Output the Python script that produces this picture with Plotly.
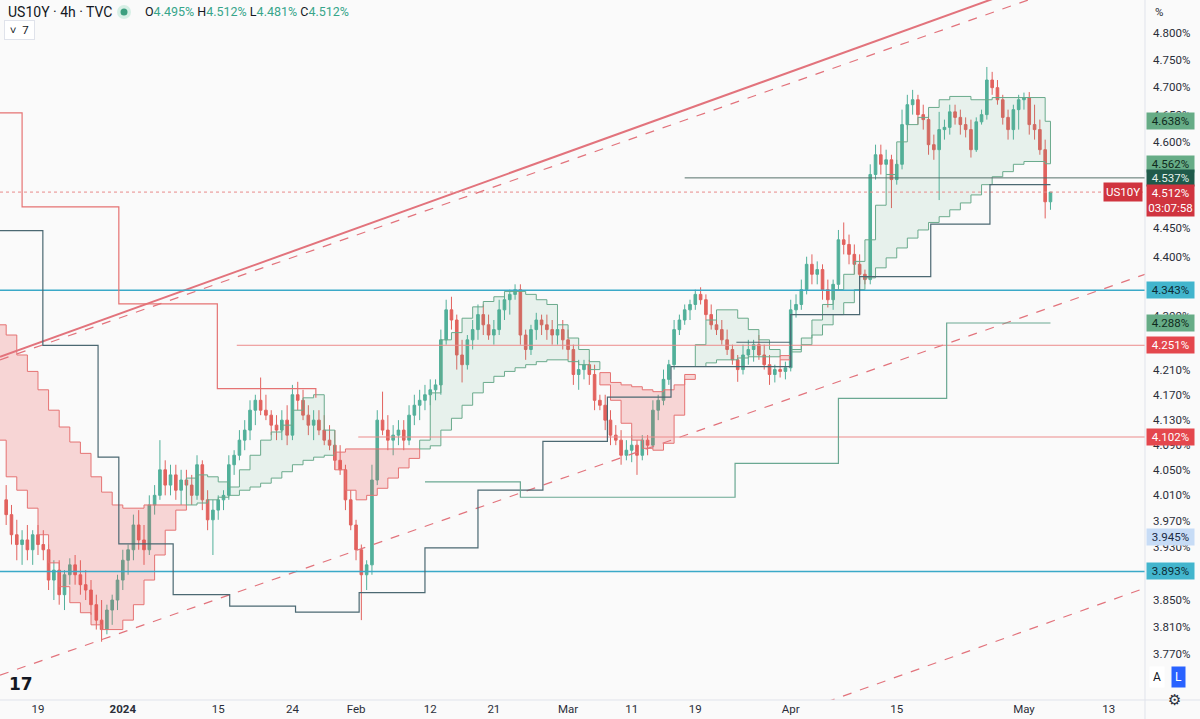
import math
import pandas as pd
import plotly.graph_objects as go

# ---------------- trading calendar ----------------
HOLIDAYS = ["2023-12-25", "2024-01-01", "2024-02-19"]
SESSIONS = pd.bdate_range("2023-12-13", "2024-05-17", freq="C", holidays=HOLIDAYS)

# ---------------- price bars (two bars per session: 00:00 and 12:00) ----------------
bar_open = [4.003, 3.980, 3.949, 3.934, 3.941, 3.926, 3.949, 3.934, 3.926, 3.880,
            3.895, 3.858, 3.888, 3.903, 3.888, 3.873, 3.865, 3.843, 3.820, 3.806,
            3.835, 3.850, 3.880, 3.910, 3.926, 3.964, 3.941, 3.926, 3.995, 4.010,
            4.050, 4.026, 4.042, 4.018, 4.034, 4.026, 4.010, 4.058, 4.003, 3.972,
            3.987, 4.003, 4.010, 4.058, 4.073, 4.097, 4.113, 4.145, 4.161, 4.145,
            4.137, 4.121, 4.113, 4.129, 4.105, 4.170, 4.161, 4.137, 4.121, 4.129,
            4.113, 4.097, 4.089, 4.065, 4.050, 4.003, 3.964, 3.926, 3.888, 3.903,
            4.034, 4.129, 4.113, 4.097, 4.105, 4.113, 4.097, 4.137, 4.153, 4.161,
            4.170, 4.178, 4.186, 4.260, 4.310, 4.293, 4.235, 4.219, 4.260, 4.277,
            4.302, 4.285, 4.268, 4.277, 4.310, 4.327, 4.336, 4.344, 4.268, 4.244,
            4.277, 4.293, 4.285, 4.277, 4.268, 4.277, 4.260, 4.244, 4.203, 4.211,
            4.219, 4.203, 4.161, 4.153, 4.129, 4.105, 4.097, 4.073, 4.081, 4.089,
            4.073, 4.097, 4.089, 4.145, 4.161, 4.195, 4.219, 4.277, 4.293, 4.310,
            4.319, 4.336, 4.327, 4.302, 4.285, 4.277, 4.260, 4.244, 4.227, 4.211,
            4.235, 4.244, 4.252, 4.235, 4.219, 4.203, 4.211, 4.208, 4.214, 4.310,
            4.319, 4.344, 4.387, 4.370, 4.378, 4.344, 4.327, 4.353, 4.429, 4.421,
            4.404, 4.387, 4.370, 4.361, 4.543, 4.578, 4.561, 4.569, 4.534, 4.561,
            4.632, 4.668, 4.677, 4.650, 4.641, 4.596, 4.587, 4.623, 4.627, 4.655,
            4.645, 4.632, 4.623, 4.587, 4.637, 4.650, 4.713, 4.699, 4.677, 4.645,
            4.623, 4.659, 4.677, 4.681, 4.632, 4.623, 4.587, 4.495]
bar_high = [4.026, 3.995, 3.972, 3.956, 3.964, 3.956, 3.964, 3.956, 3.934, 3.910,
            3.910, 3.895, 3.913, 3.918, 3.910, 3.895, 3.880, 3.858, 3.850, 3.843,
            3.858, 3.888, 3.926, 3.934, 3.980, 3.987, 3.964, 4.010, 4.026, 4.097,
            4.065, 4.058, 4.058, 4.050, 4.050, 4.042, 4.073, 4.065, 4.018, 4.003,
            4.010, 4.018, 4.073, 4.081, 4.113, 4.129, 4.161, 4.170, 4.198, 4.170,
            4.145, 4.137, 4.145, 4.153, 4.186, 4.191, 4.178, 4.153, 4.145, 4.145,
            4.137, 4.121, 4.113, 4.089, 4.058, 4.018, 3.972, 3.934, 3.910, 4.058,
            4.145, 4.175, 4.137, 4.121, 4.129, 4.129, 4.153, 4.170, 4.178, 4.186,
            4.195, 4.195, 4.277, 4.327, 4.332, 4.302, 4.260, 4.268, 4.293, 4.319,
            4.319, 4.302, 4.293, 4.327, 4.336, 4.344, 4.353, 4.353, 4.277, 4.285,
            4.305, 4.302, 4.302, 4.293, 4.285, 4.293, 4.277, 4.252, 4.227, 4.227,
            4.227, 4.219, 4.170, 4.170, 4.145, 4.121, 4.113, 4.097, 4.105, 4.097,
            4.105, 4.105, 4.161, 4.170, 4.211, 4.227, 4.293, 4.302, 4.319, 4.327,
            4.344, 4.348, 4.336, 4.319, 4.302, 4.293, 4.277, 4.252, 4.235, 4.252,
            4.260, 4.260, 4.268, 4.252, 4.235, 4.219, 4.227, 4.224, 4.327, 4.336,
            4.361, 4.400, 4.404, 4.392, 4.387, 4.361, 4.361, 4.446, 4.459, 4.438,
            4.421, 4.404, 4.378, 4.561, 4.596, 4.596, 4.587, 4.578, 4.569, 4.659,
            4.686, 4.695, 4.686, 4.668, 4.650, 4.614, 4.655, 4.641, 4.668, 4.668,
            4.659, 4.645, 4.641, 4.645, 4.659, 4.737, 4.728, 4.713, 4.686, 4.659,
            4.668, 4.686, 4.690, 4.691, 4.668, 4.641, 4.605, 4.512]
bar_low = [3.964, 3.934, 3.910, 3.903, 3.910, 3.903, 3.918, 3.910, 3.865, 3.850,
           3.843, 3.835, 3.873, 3.873, 3.858, 3.850, 3.828, 3.806, 3.788, 3.799,
           3.813, 3.835, 3.865, 3.888, 3.910, 3.926, 3.903, 3.918, 3.980, 4.003,
           4.010, 4.010, 4.003, 3.995, 4.003, 3.995, 4.003, 3.987, 3.956, 3.918,
           3.972, 3.987, 4.003, 4.042, 4.065, 4.081, 4.097, 4.121, 4.137, 4.129,
           4.105, 4.097, 4.097, 4.089, 4.097, 4.145, 4.129, 4.105, 4.097, 4.105,
           4.089, 4.081, 4.050, 4.042, 3.987, 3.956, 3.910, 3.820, 3.865, 3.888,
           4.026, 4.105, 4.081, 4.073, 4.089, 4.081, 4.089, 4.121, 4.129, 4.145,
           4.153, 4.161, 4.170, 4.252, 4.277, 4.211, 4.190, 4.211, 4.244, 4.260,
           4.268, 4.260, 4.252, 4.268, 4.293, 4.302, 4.327, 4.252, 4.227, 4.235,
           4.260, 4.268, 4.260, 4.252, 4.252, 4.244, 4.227, 4.186, 4.178, 4.195,
           4.186, 4.145, 4.145, 4.113, 4.089, 4.089, 4.058, 4.065, 4.062, 4.042,
           4.065, 4.073, 4.084, 4.129, 4.153, 4.186, 4.211, 4.268, 4.285, 4.293,
           4.310, 4.319, 4.293, 4.277, 4.268, 4.252, 4.235, 4.219, 4.191, 4.203,
           4.219, 4.224, 4.227, 4.211, 4.186, 4.190, 4.198, 4.195, 4.208, 4.297,
           4.310, 4.336, 4.353, 4.353, 4.327, 4.314, 4.310, 4.344, 4.404, 4.387,
           4.370, 4.353, 4.353, 4.353, 4.534, 4.543, 4.543, 4.484, 4.525, 4.552,
           4.623, 4.650, 4.632, 4.623, 4.578, 4.569, 4.498, 4.605, 4.614, 4.632,
           4.614, 4.609, 4.573, 4.583, 4.632, 4.641, 4.686, 4.668, 4.632, 4.605,
           4.605, 4.623, 4.659, 4.614, 4.605, 4.578, 4.466, 4.481]
bar_close = [3.980, 3.949, 3.934, 3.941, 3.926, 3.949, 3.934, 3.926, 3.880, 3.895,
             3.858, 3.888, 3.903, 3.888, 3.873, 3.865, 3.843, 3.820, 3.806, 3.835,
             3.850, 3.880, 3.910, 3.926, 3.964, 3.941, 3.926, 3.995, 4.010, 4.050,
             4.026, 4.042, 4.018, 4.034, 4.026, 4.010, 4.058, 4.003, 3.972, 3.987,
             4.003, 4.010, 4.058, 4.073, 4.097, 4.113, 4.145, 4.161, 4.145, 4.137,
             4.121, 4.113, 4.129, 4.105, 4.170, 4.161, 4.137, 4.121, 4.129, 4.113,
             4.097, 4.089, 4.065, 4.050, 4.003, 3.964, 3.926, 3.888, 3.903, 4.034,
             4.129, 4.113, 4.097, 4.105, 4.113, 4.097, 4.137, 4.153, 4.161, 4.170,
             4.178, 4.186, 4.260, 4.310, 4.293, 4.235, 4.219, 4.260, 4.277, 4.302,
             4.285, 4.268, 4.277, 4.310, 4.327, 4.336, 4.344, 4.268, 4.244, 4.277,
             4.293, 4.285, 4.277, 4.268, 4.277, 4.260, 4.244, 4.203, 4.211, 4.219,
             4.203, 4.161, 4.153, 4.129, 4.105, 4.097, 4.073, 4.081, 4.089, 4.073,
             4.097, 4.089, 4.145, 4.161, 4.195, 4.219, 4.277, 4.293, 4.310, 4.319,
             4.336, 4.327, 4.302, 4.285, 4.277, 4.260, 4.244, 4.227, 4.211, 4.235,
             4.244, 4.252, 4.235, 4.219, 4.203, 4.211, 4.208, 4.214, 4.310, 4.319,
             4.344, 4.387, 4.370, 4.378, 4.344, 4.327, 4.353, 4.429, 4.421, 4.404,
             4.387, 4.370, 4.361, 4.543, 4.578, 4.561, 4.569, 4.534, 4.561, 4.632,
             4.668, 4.677, 4.650, 4.641, 4.596, 4.587, 4.623, 4.627, 4.655, 4.645,
             4.632, 4.623, 4.587, 4.637, 4.650, 4.713, 4.699, 4.677, 4.645, 4.623,
             4.659, 4.677, 4.681, 4.632, 4.623, 4.587, 4.495, 4.512]

# ---------------- cloud spans (one value per session, Dec 13 .. May 3) ----------------
span_a = [4.097, 4.039, 4.018, 3.990, 3.949, 3.906, 3.870, 3.846, 3.831, 3.813,
          3.806, 3.806, 3.820, 3.843, 3.880, 3.918, 3.956, 3.987, 4.037, 4.042,
          4.039, 4.031, 4.023, 4.050, 4.073, 4.097, 4.110, 4.121, 4.145, 4.165,
          4.170, 4.113, 4.050, 4.018, 4.003, 4.010, 4.021, 4.037, 4.053, 4.068,
          4.097, 4.173, 4.260, 4.272, 4.296, 4.315, 4.324, 4.332, 4.341, 4.341,
          4.336, 4.327, 4.319, 4.285, 4.263, 4.244, 4.224, 4.186, 4.161, 4.124,
          4.097, 4.084, 4.081, 4.092, 4.137, 4.195, 4.252, 4.293, 4.310, 4.310,
          4.296, 4.277, 4.260, 4.244, 4.227, 4.244, 4.263, 4.293, 4.319, 4.344,
          4.370, 4.392, 4.429, 4.489, 4.543, 4.601, 4.632, 4.645, 4.663, 4.677,
          4.683, 4.683, 4.677, 4.677, 4.681, 4.681, 4.681, 4.681, 4.681, 4.638]
span_b = [4.285, 4.268, 4.235, 4.208, 4.178, 4.145, 4.118, 4.094, 4.076, 4.039,
          4.015, 3.995, 3.990, 3.990, 3.995, 3.995, 3.995, 3.995, 3.995, 3.998,
          4.003, 4.007, 4.010, 4.018, 4.023, 4.029, 4.037, 4.047, 4.058, 4.065,
          4.070, 4.073, 4.078, 4.083, 4.083, 4.083, 4.083, 4.083, 4.083, 4.083,
          4.083, 4.088, 4.113, 4.132, 4.153, 4.173, 4.190, 4.200, 4.208, 4.214,
          4.219, 4.224, 4.227, 4.227, 4.224, 4.219, 4.211, 4.206, 4.190, 4.186,
          4.183, 4.178, 4.175, 4.178, 4.186, 4.203, 4.216, 4.222, 4.227, 4.227,
          4.230, 4.232, 4.232, 4.232, 4.234, 4.240, 4.252, 4.268, 4.285, 4.302,
          4.322, 4.344, 4.364, 4.381, 4.398, 4.415, 4.432, 4.446, 4.459, 4.469,
          4.481, 4.493, 4.507, 4.525, 4.539, 4.548, 4.561, 4.566, 4.566, 4.562]

# ---------------- step indicator lines (breakpoint time, value) ----------------
slow_line_t = ["2023-12-13 10:00", "2023-12-19 11:00", "2023-12-27 16:00", "2023-12-29 15:00",
               "2024-01-08 18:00", "2024-01-16 02:00", "2024-01-24 07:00", "2024-02-01 07:00",
               "2024-02-09 12:00", "2024-02-16 12:00", "2024-02-27 15:00", "2024-03-06 17:00",
               "2024-03-14 17:00", "2024-04-01 00:00", "2024-04-09 12:00", "2024-04-18 05:00",
               "2024-04-25 19:00", "2024-05-03 12:00"]
slow_line_v = [4.445, 4.251, 4.070, 3.935, 3.858, 3.841, 3.832, 3.861, 3.929, 4.018,
               4.095, 4.166, 4.216, 4.302, 4.366, 4.456, 4.525, 4.525]
base_line_t = ["2024-03-22 21:00", "2024-04-01 00:00"]
base_line_v = [4.256, 4.256]
red_step_t = ["2023-12-13 10:00", "2023-12-15 12:00", "2023-12-29 15:00", "2024-01-12 22:00",
              "2024-01-26 05:00"]
red_step_v = [4.653, 4.486, 4.320, 4.180, 4.165]
green_step_t = ["2024-02-09 12:00", "2024-02-23 12:00", "2024-03-22 18:00", "2024-04-05 12:00",
                "2024-04-19 17:00", "2024-05-03 12:00"]
green_step_v = [4.031, 4.007, 4.060, 4.164, 4.288, 4.288]

# ---------------- drawings ----------------
X_LEFT, X_RIGHT = "2023-12-13 10:00", "2024-05-16 10:00"
channel_solid_t = [X_LEFT, X_RIGHT]
channel_solid_v = [4.232, 4.969]
channel_dash_top_v = [4.227, 4.940]
channel_dash_low_v = [3.739, 4.370]
channel_dash_far_t = ["2024-04-04 08:00", X_RIGHT]
channel_dash_far_v = [3.700, 3.868]

levels_cyan = [4.343, 3.893]
level_red_1 = (4.251, "2024-01-16 18:00")
level_red_2 = (4.102, "2024-02-01 05:00")
level_grey = (4.537, "2024-03-18 00:00")
last_price = 4.512

axis_labels = [
    (4.638, "4.638%", "#66ac86", "#0f2a1c"),
    (4.562, "4.562%", "#66ac86", "#0f2a1c"),
    (4.537, "4.537%", "#1f5a4a", "#e4f1ec"),
    (4.343, "4.343%", "#42b5cd", "#0d2a33"),
    (4.288, "4.288%", "#66ac86", "#0f2a1c"),
    (4.251, "4.251%", "#e4474d", "#ffffff"),
    (4.102, "4.102%", "#e4474d", "#ffffff"),
    (3.945, "3.945%", "#c7dcf6", "#1b2b44"),
    (3.893, "3.893%", "#42b5cd", "#0d2a33"),
]

# scale marks that remain (partly) visible next to the price labels
y_ticks = [4.800, 4.750, 4.700, 4.650, 4.600, 4.450, 4.400, 4.300,
           4.210, 4.170, 4.130, 4.090, 4.050, 4.010, 3.970, 3.930,
           3.850, 3.810, 3.770]
x_tick_dates = ["2023-12-19", "2024-01-02", "2024-01-15", "2024-01-24", "2024-02-01",
                "2024-02-12", "2024-02-21", "2024-03-01", "2024-03-11", "2024-03-19",
                "2024-04-01", "2024-04-15", "2024-05-01", "2024-05-13"]
x_tick_text = ["19", "<b>2024</b>", "15", "24", "Feb", "12", "21", "Mar", "11", "19",
               "Apr", "15", "May", "13"]

# ---------------- build ----------------
bar_days = SESSIONS[(SESSIONS >= "2023-12-14") & (SESSIONS <= "2024-05-03")]
bar_time = [d + pd.Timedelta(hours=h) for d in bar_days for h in (0, 12)]
assert len(bar_time) == len(bar_open) == len(bar_high) == len(bar_low) == len(bar_close)

cloud_days = list(SESSIONS[(SESSIONS >= "2023-12-13") & (SESSIONS <= "2024-05-03")])
cloud_end = cloud_days[1:] + [pd.Timestamp("2024-05-03 12:00")]
assert len(cloud_days) == len(span_a) == len(span_b)

UP = "#52b09a"
DOWN = "#e2625e"
G_LINE, G_FILL = "#6aaa8c", "rgba(80,170,125,0.11)"
R_LINE, R_FILL = "#e57373", "rgba(239,83,80,0.22)"
BG = "#fafafa"

fig = go.Figure()

# cloud polygons
bull = [a >= b for a, b in zip(span_a, span_b)]
n = len(bull)
i = 0
while i < n:
    j = i
    while j + 1 < n and bull[j + 1] == bull[i]:
        j += 1
    xs, ys = [], []
    for k in range(i, j + 1):
        top = max(span_a[k], span_b[k])
        xs += [cloud_days[k], cloud_end[k]]
        ys += [top, top]
    for k in range(j, i - 1, -1):
        bot = min(span_a[k], span_b[k])
        xs += [cloud_end[k], cloud_days[k]]
        ys += [bot, bot]
    xs.append(xs[0]); ys.append(ys[0])
    fig.add_trace(go.Scatter(x=xs, y=ys, mode="lines", fill="toself",
                             fillcolor=G_FILL if bull[i] else R_FILL,
                             line=dict(color=G_LINE if bull[i] else R_LINE, width=1),
                             hoverinfo="skip"))
    i = j + 1

def line(x, y, color, width=1, dash=None, shape="linear"):
    fig.add_trace(go.Scatter(x=x, y=y, mode="lines", hoverinfo="skip",
                             line=dict(color=color, width=width, dash=dash, shape=shape)))

# channel drawings
line(channel_solid_t, channel_solid_v, "#e2737c", 2)
line(channel_solid_t, channel_dash_top_v, "#e2737c", 1.2, "dash")
line(channel_solid_t, channel_dash_low_v, "#e2737c", 1.2, "dash")
line(channel_dash_far_t, channel_dash_far_v, "#e2737c", 1.2, "dash")

# horizontal levels
for v in levels_cyan:
    line([X_LEFT, X_RIGHT], [v, v], "#3aa9c8", 1.6)
for v, start in (level_red_1, level_red_2):
    line([start, X_RIGHT], [v, v], "#ec8b8b", 1)
line([level_grey[1], X_RIGHT], [level_grey[0], level_grey[0]], "#55706a", 1)
line([X_LEFT, X_RIGHT], [last_price, last_price], "#e88a8a", 1, "dot")

# step lines
line(slow_line_t, slow_line_v, "#4b6872", 1.2, shape="hv")
line(base_line_t, base_line_v, "#4b6872", 1.2, shape="hv")
line(red_step_t, red_step_v, "#e57373", 1.2, shape="hv")
line(green_step_t, green_step_v, "#6aa892", 1.2, shape="hv")

# candles
fig.add_trace(go.Candlestick(
    x=bar_time, open=bar_open, high=bar_high, low=bar_low, close=bar_close,
    increasing=dict(line=dict(color=UP, width=1), fillcolor=UP),
    decreasing=dict(line=dict(color=DOWN, width=1), fillcolor=DOWN),
    whiskerwidth=0, hoverinfo="skip"))

ylo = 4.8 * math.exp(-667 / 2571)
yhi = 4.8 * math.exp(33 / 2571)

FONT = "Roboto, sans-serif"
fig.update_layout(
    width=1200, height=719, paper_bgcolor=BG, plot_bgcolor=BG,
    margin=dict(l=0, r=55, t=0, b=19), showlegend=False, hovermode=False,
    font=dict(family=FONT, size=11, color="#333"),
    xaxis=dict(type="date", range=[X_LEFT, X_RIGHT], automargin=False,
               rangebreaks=[dict(bounds=["sat", "mon"]), dict(values=HOLIDAYS)],
               tickvals=x_tick_dates, ticktext=x_tick_text, showgrid=False, zeroline=False,
               ticks="", showline=False, rangeslider=dict(visible=False),
               tickfont=dict(size=11.5, color="#2a2e39")),
    yaxis=dict(type="log", side="right", range=[math.log10(ylo), math.log10(yhi)],
               automargin=False, tickvals=y_ticks, ticktext=[f"{v:.3f}%" for v in y_ticks],
               showgrid=False, zeroline=False, ticks="", showline=False,
               ticklabelstandoff=7, tickfont=dict(size=11.5, color="#2a2e39")),
)

# frame separators
fig.add_shape(type="line", xref="paper", yref="paper", x0=0, x1=1200 / 1145, y0=0, y1=0,
              line=dict(color="#e0e3eb", width=1))
fig.add_shape(type="line", xref="paper", yref="paper", x0=1, x1=1, y0=-19 / 700, y1=1,
              line=dict(color="#e0e3eb", width=1))

def px_x(px):
    return px / 1145

def px_y(py):
    return 1 - py / 700

# right axis price labels
for v, txt, bg, fg in axis_labels:
    fig.add_annotation(xref="paper", yref="y", x=1, y=math.log10(v), xanchor="left",
                       yanchor="middle", text=txt, showarrow=False, bgcolor=bg,
                       font=dict(color=fg, size=11.5, family=FONT), width=45, height=14,
                       borderpad=1, xshift=1)
fig.add_annotation(xref="paper", yref="y", x=1, y=math.log10(last_price), xanchor="left",
                   yanchor="top", yshift=8, text="4.512%<br>03:07:58", showarrow=False,
                   bgcolor="#d0343f", font=dict(color="#ffffff", size=11.5, family=FONT),
                   width=45, borderpad=1, xshift=1, align="center")
fig.add_annotation(xref="paper", yref="y", x=1, y=math.log10(last_price), xanchor="right",
                   yanchor="middle", text="US10Y", showarrow=False, bgcolor="#d0343f",
                   font=dict(color="#ffffff", size=11.5, family=FONT), borderpad=2, xshift=-2)

# header
fig.add_annotation(xref="paper", yref="paper", x=px_x(6), y=px_y(12), xanchor="left",
                   yanchor="middle", text="US10Y · 4h · TVC", showarrow=False,
                   font=dict(size=14, color="#131722", family=FONT))
fig.add_shape(type="circle", xref="paper", yref="paper", xsizemode="pixel", ysizemode="pixel",
              xanchor=px_x(124), yanchor=px_y(12), x0=-7, x1=7, y0=-7, y1=7,
              fillcolor="#d6efe5", line=dict(width=0))
fig.add_shape(type="circle", xref="paper", yref="paper", xsizemode="pixel", ysizemode="pixel",
              xanchor=px_x(124), yanchor=px_y(12), x0=-3.5, x1=3.5, y0=-3.5, y1=3.5,
              fillcolor="#3c9f7f", line=dict(width=0))
gc = "#37a58a"
ohlc = (f"O<span style='color:{gc}'>4.495%</span> H<span style='color:{gc}'>4.512%</span> "
        f"L<span style='color:{gc}'>4.481%</span> C<span style='color:{gc}'>4.512%</span>")
fig.add_annotation(xref="paper", yref="paper", x=px_x(143), y=px_y(12), xanchor="left",
                   yanchor="middle", text=ohlc, showarrow=False,
                   font=dict(size=12.5, color="#131722", family=FONT))
fig.add_annotation(xref="paper", yref="paper", x=px_x(4), y=px_y(30), xanchor="left",
                   yanchor="middle", text=" ˅  7 ", showarrow=False, bgcolor="#ffffff",
                   bordercolor="#e0e3eb", borderwidth=1, borderpad=2, height=14,
                   font=dict(size=11.5, color="#131722", family=FONT))
fig.add_annotation(xref="paper", yref="paper", x=px_x(1153), y=px_y(12), xanchor="left",
                   yanchor="middle", text="%", showarrow=False,
                   font=dict(size=11.5, color="#2a2e39", family=FONT))
fig.add_annotation(xref="paper", yref="paper", x=px_x(7), y=px_y(684), xanchor="left",
                   yanchor="middle", text="<b>17</b>", showarrow=False,
                   font=dict(size=17, color="#131722", family="DejaVu Sans"))
fig.add_annotation(xref="paper", yref="paper", x=px_x(1165), y=px_y(688), text="A",
                   showarrow=False, bgcolor="#ffffff", borderpad=3,
                   font=dict(size=12, color="#131722", family=FONT))
fig.add_annotation(xref="paper", yref="paper", x=px_x(1186), y=px_y(688), text="L",
                   showarrow=False, bgcolor="#2962ff", borderpad=3,
                   font=dict(size=12, color="#ffffff", family=FONT))
fig.add_annotation(xref="paper", yref="paper", x=px_x(1183), y=px_y(711), text="⚙",
                   showarrow=False, font=dict(size=15, color="#2a2e39", family="DejaVu Sans"))

fig.write_html("out.html", config={"displayModeBar": False},
               post_script="document.body.style.margin='0px';document.body.style.overflow='hidden';")
